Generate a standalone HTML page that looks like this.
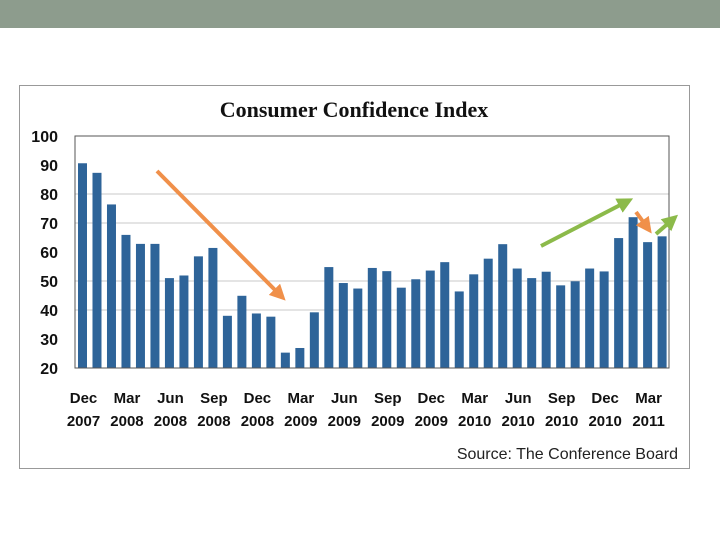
<!DOCTYPE html>
<html><head><meta charset="utf-8"><style>
body{margin:0;width:720px;height:540px;background:#fff;overflow:hidden;font-family:"Liberation Sans",sans-serif}
</style></head><body>
<svg width="720" height="540" xmlns="http://www.w3.org/2000/svg" id="svg">
<rect x="0" y="0" width="720" height="28" fill="#8d9c8d"/>
<rect x="19.5" y="85.5" width="670" height="383" fill="#fff" stroke="#999" stroke-width="1"/>
<text x="354" y="117" text-anchor="middle" font-family="Liberation Serif,serif" font-weight="bold" font-size="22" fill="#111">Consumer Confidence Index</text>
<g id="grid"></g><g id="bars"></g><g id="yt"></g><g id="xt"></g>
<rect x="75" y="136" width="594" height="232" fill="none" stroke="#555" stroke-width="1"/>
<text x="678" y="459" text-anchor="end" font-size="16" fill="#222">Source: The Conference Board</text>
<defs>
<marker id="ao" markerWidth="4" markerHeight="4" refX="2" refY="2" orient="auto"><path d="M0,0 L4,2 L0,4 z" fill="#f0904a"/></marker>
<marker id="ag" markerWidth="4" markerHeight="4" refX="2" refY="2" orient="auto"><path d="M0,0 L4,2 L0,4 z" fill="#8cba4a"/></marker>
</defs>
<line x1="157" y1="171" x2="280" y2="295" stroke="#f0904a" stroke-width="4" marker-end="url(#ao)"/>
<line x1="541" y1="246" x2="626" y2="202" stroke="#8cba4a" stroke-width="4" marker-end="url(#ag)"/>
<line x1="636" y1="212" x2="647" y2="227" stroke="#f0904a" stroke-width="4" marker-end="url(#ao)"/>
<line x1="656" y1="234" x2="672" y2="220" stroke="#8cba4a" stroke-width="4" marker-end="url(#ag)"/>
</svg>
<script>
const values=[90.6,87.3,76.4,65.9,62.8,62.8,51.0,51.9,58.5,61.4,38.0,44.9,38.8,37.7,25.3,26.9,39.2,54.8,49.3,47.4,54.5,53.4,47.7,50.6,53.6,56.5,46.4,52.3,57.7,62.7,54.3,51.0,53.2,48.5,49.9,54.3,53.3,64.8,72.0,63.4,65.4];
const yTicks=[20,30,40,50,60,70,80,90,100];
const gridVals=[40,50,70,80];
const xLabels=[["Dec","2007"],["Mar","2008"],["Jun","2008"],["Sep","2008"],["Dec","2008"],["Mar","2009"],["Jun","2009"],["Sep","2009"],["Dec","2009"],["Mar","2010"],["Jun","2010"],["Sep","2010"],["Dec","2010"],["Mar","2011"]];
const NS="http://www.w3.org/2000/svg";
const y=v=>368-(v-20)*(232/80);
const x=i=>82.5+i*14.49;
function mk(p,t,a){const e=document.createElementNS(NS,t);for(const k in a)e.setAttribute(k,a[k]);document.getElementById(p).appendChild(e);return e;}
gridVals.forEach(v=>{const l=mk('grid','line',{x1:75,x2:669,y1:y(v),y2:y(v),stroke:'#c8c8c8','stroke-width':1});

});
values.forEach((v,i)=>{const r=mk('bars','rect',{x:x(i)-4.5,y:y(v),width:9,height:368-y(v),fill:'#2e6499'});

});
yTicks.forEach(v=>{const t=mk('yt','text',{x:58,y:y(v)+6,'text-anchor':'end','font-size':16,'font-weight':'bold',fill:'#111'});t.textContent=v;

});
xLabels.forEach((l,j)=>{const cx=x(j*3)+1;
const t=mk('xt','text',{x:cx,y:403,'text-anchor':'middle','font-size':15,'font-weight':'bold',fill:'#111'});t.textContent=l[0];


const u=mk('xt','text',{x:cx,y:426,'text-anchor':'middle','font-size':15,'font-weight':'bold',fill:'#111'});u.textContent=l[1];

});
</script>
</body></html>
